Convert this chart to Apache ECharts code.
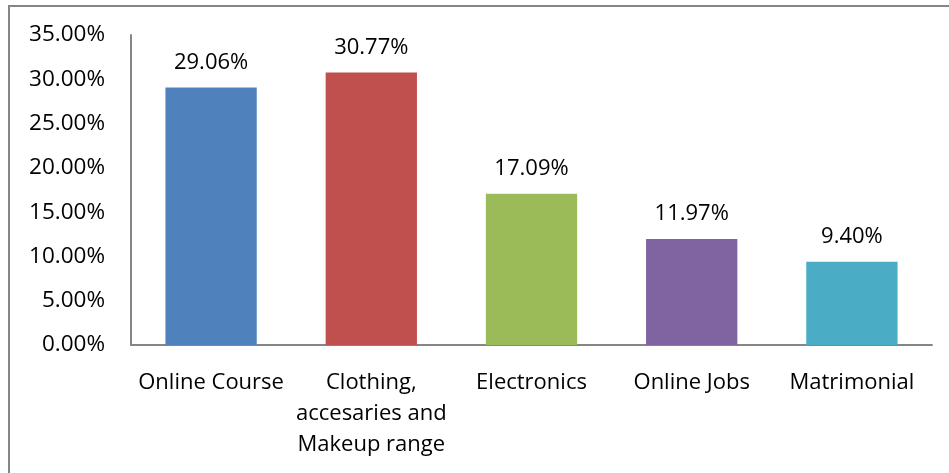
<!DOCTYPE html>
<html>
<head>
<meta charset="utf-8">
<style>
  html, body { margin: 0; padding: 0; background: #fff; }
  #chart { width: 949px; height: 473px; }
</style>
<script src="https://cdn.jsdelivr.net/npm/echarts@6/dist/echarts.min.js"></script>
</head>
<body>
<div id="chart"></div>
<script>
// Share of respondents by online purchase category (percent)
const categories = [
  'Online Course',
  'Clothing,\naccesaries and\nMakeup range',
  'Electronics',
  'Online Jobs',
  'Matrimonial'
];
const shares = [29.06, 30.77, 17.09, 11.97, 9.40];
const barColors = ['#4F81BD', '#C0504D', '#9BBB59', '#8064A2', '#4BACC6'];

const axisGray = '#868686';
const font = 'Open Sans';

const chart = echarts.init(document.getElementById('chart'), null, { renderer: 'canvas' });

chart.setOption({
  backgroundColor: '#fff',
  animation: false,
  textStyle: { fontFamily: font },
  graphic: [{
    type: 'rect',
    shape: { x: 9, y: 6, width: 1000, height: 600 },
    style: { fill: 'none', stroke: axisGray, lineWidth: 2 },
    silent: true,
    z: -1
  }],
  grid: { left: 131, right: 17, top: 35, bottom: 128, containLabel: false },
  xAxis: {
    type: 'category',
    data: categories,
    axisLine: { lineStyle: { color: axisGray, width: 2 } },
    axisTick: { show: false },
    axisLabel: {
      color: '#000',
      fontSize: 22,
      fontFamily: font,
      margin: 22,
      lineHeight: 31,
      interval: 0
    }
  },
  yAxis: {
    type: 'value',
    min: 0,
    max: 35,
    interval: 5,
    axisLine: { show: true, lineStyle: { color: axisGray, width: 2 } },
    axisTick: { show: false },
    splitLine: { show: false },
    axisLabel: {
      color: '#000',
      fontSize: 22.5,
      fontFamily: font,
      margin: 26,
      formatter: v => v.toFixed(2) + '%'
    }
  },
  series: [{
    type: 'bar',
    data: shares.map((v, i) => ({ value: v, itemStyle: { color: barColors[i] } })),
    barWidth: '57%',
    label: {
      show: true,
      position: 'top',
      distance: 14,
      color: '#000',
      fontSize: 22,
      fontFamily: font,
      formatter: p => p.value.toFixed(2) + '%'
    }
  }]
});
</script>
</body>
</html>
